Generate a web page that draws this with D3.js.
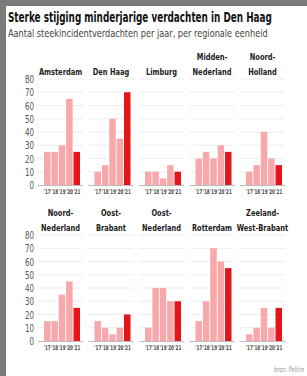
<!DOCTYPE html>
<html>
<head>
<meta charset="utf-8">
<script src="https://cdn.jsdelivr.net/npm/d3@7"></script>
<style>
  html, body { margin: 0; padding: 0; background: #7b7b7b; }
  svg { display: block; }
</style>
</head>
<body>
<div id="chart"></div>
<script>
const years = ["'17", "'18", "'19", "'20", "'21"];
const regions = [
    ['Amsterdam'], ['Den Haag'], ['Limburg'], ['Midden-', 'Nederland'], ['Noord-', 'Holland'],
    ['Noord-', 'Nederland'], ['Oost-', 'Brabant'], ['Oost-', 'Nederland'], ['Rotterdam'], ['Zeeland-', 'West-Brabant']
];
const counts = [
    [25, 25, 30, 65, 25],
    [10, 15, 50, 35, 70],
    [10, 10, 5, 15, 10],
    [20, 25, 20, 30, 25],
    [10, 15, 40, 20, 15],
    [15, 15, 35, 45, 25],
    [15, 10, 5, 10, 20],
    [10, 40, 40, 30, 30],
    [15, 30, 70, 60, 55],
    [5, 10, 25, 10, 25]
];
const yTicks = [0, 10, 20, 30, 40, 50, 60, 70, 80];

const width = 307, height = 376;
const font = "'DejaVu Sans Condensed', sans-serif";

const svg = d3.select('#chart').append('svg')
    .attr('width', width)
    .attr('height', height);

svg.append('rect')
    .attr('x', 6).attr('y', 6)
    .attr('width', width - 6).attr('height', height - 6)
    .attr('fill', '#fff');

// squeeze a text horizontally so that it is w pixels wide
function squeeze(sel, x, y, w) {
    const len = sel.node().getComputedTextLength();
    sel.attr('transform', `translate(${x},${y}) scale(${w / len},1)`);
    return sel;
}

squeeze(svg.append('text')
    .attr('font-family', font)
    .attr('font-weight', 'bold')
    .attr('font-size', 14)
    .attr('fill', '#111')
    .text('Sterke stijging minderjarige verdachten in Den Haag'), 8, 22, 264);

squeeze(svg.append('text')
    .attr('font-family', font)
    .attr('font-size', 11)
    .attr('fill', '#444')
    .text('Aantal steekincidentverdachten per jaar, per regionale eenheid'), 8, 37, 260);

// panel columns and bars within a panel
const col = d3.scaleBand()
    .domain(d3.range(5))
    .range([38, 285])
    .paddingInner(0.109);
const x = d3.scaleBand()
    .domain(years)
    .range([6, 42])
    .paddingInner(0.12);

const rowBase = [185, 341];

rowBase.forEach((base, r) => {
    const y = d3.scaleLinear().domain([0, 80]).range([base, base - 106]);

    // y labels on the first panel only
    svg.append('g')
        .selectAll('text')
        .data(yTicks)
        .join('text')
        .attr('transform', d => `translate(34,${y(d) + 4}) scale(0.72,1)`)
        .attr('text-anchor', 'end')
        .attr('font-family', font)
        .attr('font-size', 11)
        .attr('fill', '#555')
        .text(d => d);

    for (let c = 0; c < 5; c++) {
        const i = r * 5 + c;
        const g = svg.append('g')
            .attr('transform', `translate(${col(c)},0)`);

        g.selectAll('line.grid')
            .data(yTicks.slice(1))
            .join('line')
            .attr('class', 'grid')
            .attr('x1', 0).attr('x2', col.bandwidth())
            .attr('y1', d => y(d)).attr('y2', d => y(d))
            .attr('stroke', '#ececec')
            .attr('stroke-width', 1);

        g.selectAll('rect')
            .data(counts[i])
            .join('rect')
            .attr('x', (d, j) => x(years[j]))
            .attr('y', d => y(d))
            .attr('width', x.bandwidth())
            .attr('height', d => y(0) - y(d))
            .attr('fill', (d, j) => j === 4 ? '#e3161b' : '#f8a8aa');

        g.append('line')
            .attr('x1', 0).attr('x2', col.bandwidth())
            .attr('y1', y(0) + 0.5).attr('y2', y(0) + 0.5)
            .attr('stroke', '#bbb');

        g.selectAll('text.tick')
            .data(years)
            .join('text')
            .attr('class', 'tick')
            .attr('transform', d => `translate(${x(d) + x.bandwidth() / 2},${y(0) + 9}) scale(0.7,1)`)
            .attr('text-anchor', 'middle')
            .attr('font-family', font)
            .attr('font-weight', 'bold')
            .attr('font-size', 6.5)
            .attr('fill', '#444')
            .text(d => d);

        const lines = regions[i];
        g.selectAll('text.title')
            .data(lines)
            .join('text')
            .attr('class', 'title')
            .attr('transform', (d, k) =>
                `translate(${col.bandwidth() / 2},${y(80) - 4 - (lines.length - 1 - k) * 15}) scale(0.78,1)`)
            .attr('text-anchor', 'middle')
            .attr('font-family', font)
            .attr('font-weight', 'bold')
            .attr('font-size', 9.5)
            .attr('fill', '#222')
            .text(d => d);
    }
});

svg.append('text')
    .attr('transform', 'translate(304,372) scale(0.75,1)')
    .attr('text-anchor', 'end')
    .attr('font-family', font)
    .attr('font-size', 7.5)
    .attr('fill', '#999')
    .text('bron: Politie');
</script>
</body>
</html>
